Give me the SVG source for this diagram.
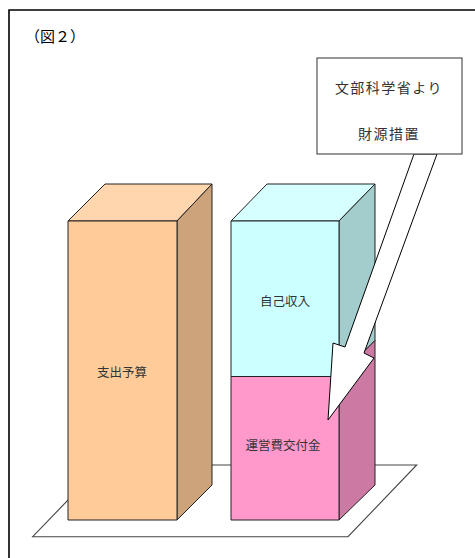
<svg xmlns="http://www.w3.org/2000/svg" width="475" height="558" viewBox="0 0 475 558">
<style>
.edge{stroke:#222;stroke-width:1;stroke-linejoin:round}
.lbl{font-family:"Noto Sans CJK JP","Noto Sans",sans-serif;font-size:12.5px;fill:#333;text-anchor:middle}
.box{font-family:"Noto Sans CJK JP","Noto Sans",sans-serif;font-size:14px;fill:#333;text-anchor:middle;letter-spacing:1.5px}
</style>
<rect width="475" height="558" fill="#fff"/>
<path d="M9,558 V10 H475" fill="none" stroke="#000" stroke-width="1.6"/>
<text x="25" y="42" font-family="Liberation Serif,'Noto Sans CJK JP',serif" font-size="15" fill="#000">（図２）</text>

<g id="floor">
<polygon points="101.7,465 416.7,465 348,536.7 32.7,536.7" fill="#fff" stroke="#444" stroke-width="1.1"/>
</g>

<g id="expense">
<polygon class="edge" points="68,221 105,184 212,184 177,221" fill="#FFD6AD"/>
<polygon class="edge" points="177,221 212,184 212,485 177,520" fill="#CCA37A"/>
<rect class="edge" x="68" y="221" width="109" height="299" fill="#FFCC99"/>
<text class="lbl" x="122" y="377">支出予算</text>
</g>

<g id="income">
<polygon class="edge" points="231,221 267,184 375,184 339,221" fill="#D6FFFF"/>
<polygon class="edge" points="339,221 375,184 375,340.5 339,376.5" fill="#A3CCCC"/>
<polygon class="edge" points="339,376.5 375,340.5 375,485 339,520" fill="#CC7AA3"/>
<rect class="edge" x="231" y="221" width="108" height="155.5" fill="#CCFFFF"/>
<rect class="edge" x="231" y="376.5" width="108" height="143.5" fill="#FF99CC"/>
<text class="lbl" x="285" y="306">自己収入</text>
<text class="lbl" x="283" y="450">運営費交付金</text>
</g>

<g id="connectors">
<polygon points="414,154 345,347 333,343 328,420 374,358 364,353 437,154" fill="#fff" stroke="#000" stroke-width="1" stroke-linejoin="miter"/>
</g>

<g id="source">
<rect x="317" y="58" width="145" height="96" fill="#fff" stroke="#444" stroke-width="1.1"/>
<text class="box" x="389" y="93">文部科学省より</text>
<text class="box" x="389" y="139">財源措置</text>
</g>
</svg>
